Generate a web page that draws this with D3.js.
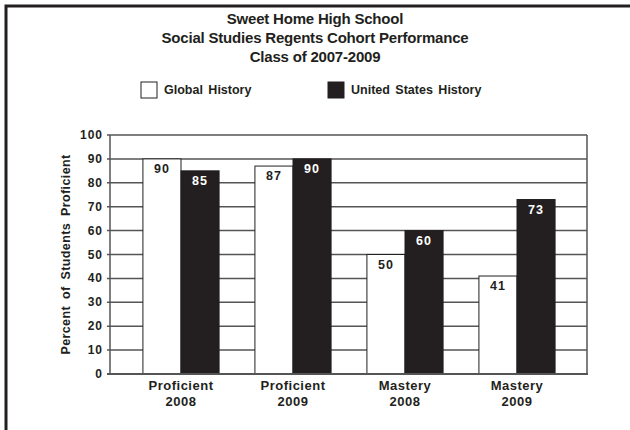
<!DOCTYPE html>
<html>
<head>
<meta charset="utf-8">
<script src="https://cdn.jsdelivr.net/npm/d3@7"></script>
<style>
  body { margin: 0; background: #fff; }
  text { font-family: "Liberation Sans", Arial, sans-serif; fill: #231f20; }
</style>
</head>
<body>
<div class="chartDiv"></div>
<script>
// chart data
var categories = [["Proficient", "2008"], ["Proficient", "2009"], ["Mastery", "2008"], ["Mastery", "2009"]];
var seriesNames = ["Global History", "United States History"];
var globalValues = [90, 87, 50, 41];
var usValues = [85, 90, 60, 73];
var yTicks = [0, 10, 20, 30, 40, 50, 60, 70, 80, 90, 100];
var titleLines = ["Sweet Home High School", "Social Studies Regents Cohort Performance", "Class of 2007-2009"];

const width = 630;
const height = 430;
const ink = '#231f20';
const gridColor = '#555';

const plotLeft = 110;
const plotRight = 587;
const plotTop = 135;
const plotBottom = 374;

var svg = d3.select('.chartDiv')
    .append('svg')
    .attr('width', width)
    .attr('height', height);

// outer frame: only top and left edges show
svg.append('path')
    .attr('d', 'M6,' + height + 'V6H' + width)
    .attr('fill', 'none')
    .attr('stroke', ink)
    .attr('stroke-width', 3);

// titles
svg.selectAll('text.title')
    .data(titleLines)
    .enter()
    .append('text')
    .attr('class', 'title')
    .attr('x', 315)
    .attr('y', (d, i) => 24 + i * 19)
    .attr('text-anchor', 'middle')
    .style('font-size', '15px')
    .style('font-weight', 'bold')
    .style('letter-spacing', '-0.2px')
    .text(d => d);

// legend
const legendItems = [
    {x: 141, fill: '#fff', name: seriesNames[0]},
    {x: 328, fill: ink, name: seriesNames[1]}
];
var legend = svg.selectAll('g.legend')
    .data(legendItems)
    .enter()
    .append('g')
    .attr('class', 'legend');
legend.append('rect')
    .attr('x', d => d.x)
    .attr('y', 82)
    .attr('width', 16)
    .attr('height', 16)
    .attr('fill', d => d.fill)
    .attr('stroke', ink)
    .attr('stroke-width', 1);
legend.append('text')
    .attr('x', d => d.x + 23)
    .attr('y', 94)
    .style('font-size', '12.5px')
    .style('font-weight', 'bold')
    .style('word-spacing', '2px')
    .text(d => d.name);

// scales
var y = d3.scaleLinear().domain([0, 100]).range([plotBottom, plotTop]);
var x0 = d3.scaleBand()
    .domain(d3.range(categories.length))
    .range([125, 573])
    .paddingInner(0.32)
    .paddingOuter(0.16);
var x1 = d3.scaleBand()
    .domain([0, 1])
    .range([0, x0.bandwidth()]);

// gridlines with short ticks
svg.selectAll('line.grid')
    .data(yTicks)
    .enter()
    .append('line')
    .attr('class', 'grid')
    .attr('x1', plotLeft - 3)
    .attr('x2', plotRight)
    .attr('y1', d => y(d))
    .attr('y2', d => y(d))
    .attr('stroke', gridColor)
    .attr('stroke-width', 1.5);

// plot frame sides
svg.append('line')
    .attr('x1', plotLeft).attr('x2', plotLeft)
    .attr('y1', plotTop).attr('y2', plotBottom)
    .attr('stroke', gridColor).attr('stroke-width', 1.5);
svg.append('line')
    .attr('x1', plotRight).attr('x2', plotRight)
    .attr('y1', plotTop).attr('y2', plotBottom)
    .attr('stroke', gridColor).attr('stroke-width', 1.5);

// y tick labels
svg.selectAll('text.ytick')
    .data(yTicks)
    .enter()
    .append('text')
    .attr('class', 'ytick')
    .attr('x', 103)
    .attr('y', d => y(d) + 4)
    .attr('text-anchor', 'end')
    .style('font-size', '12px')
    .style('font-weight', 'bold')
    .style('letter-spacing', '1px')
    .text(d => d);

// y axis title
svg.append('text')
    .attr('transform', 'translate(70,' + ((plotTop + plotBottom) / 2) + ') rotate(-90)')
    .attr('text-anchor', 'middle')
    .style('font-size', '12.5px')
    .style('font-weight', 'bold')
    .style('letter-spacing', '0.4px')
    .style('word-spacing', '3px')
    .text('Percent of Students Proficient');

// bars
var barData = [];
categories.forEach((c, i) => {
    barData.push({cat: i, s: 0, v: globalValues[i]});
    barData.push({cat: i, s: 1, v: usValues[i]});
});

svg.selectAll('rect.bar')
    .data(barData)
    .enter()
    .append('rect')
    .attr('class', 'bar')
    .attr('x', d => x0(d.cat) + x1(d.s))
    .attr('y', d => y(d.v))
    .attr('width', x1.bandwidth())
    .attr('height', d => y(0) - y(d.v))
    .attr('fill', d => d.s == 0 ? '#fff' : ink)
    .attr('stroke', ink)
    .attr('stroke-width', 1);

// value labels inside bar tops
svg.selectAll('text.value')
    .data(barData)
    .enter()
    .append('text')
    .attr('class', 'value')
    .attr('x', d => x0(d.cat) + x1(d.s) + x1.bandwidth() / 2)
    .attr('y', d => y(d.v) + 14)
    .attr('text-anchor', 'middle')
    .style('font-size', '12.5px')
    .style('font-weight', 'bold')
    .style('letter-spacing', '1px')
    .style('fill', d => d.s == 0 ? ink : '#fff')
    .text(d => d.v);

// bottom axis line over bar bottoms
svg.append('line')
    .attr('x1', plotLeft - 3).attr('x2', plotRight + 1)
    .attr('y1', plotBottom).attr('y2', plotBottom)
    .attr('stroke', gridColor).attr('stroke-width', 2);

// category labels
var catLabels = svg.selectAll('text.cat')
    .data(categories)
    .enter()
    .append('text')
    .attr('class', 'cat')
    .attr('text-anchor', 'middle')
    .style('font-size', '13px')
    .style('font-weight', 'bold')
    .style('letter-spacing', '0.5px');
catLabels.append('tspan')
    .attr('x', (d, i) => x0(i) + x0.bandwidth() / 2)
    .attr('y', 390)
    .text(d => d[0]);
catLabels.append('tspan')
    .attr('x', (d, i) => x0(i) + x0.bandwidth() / 2)
    .attr('y', 406)
    .text(d => d[1]);
</script>
</body>
</html>
